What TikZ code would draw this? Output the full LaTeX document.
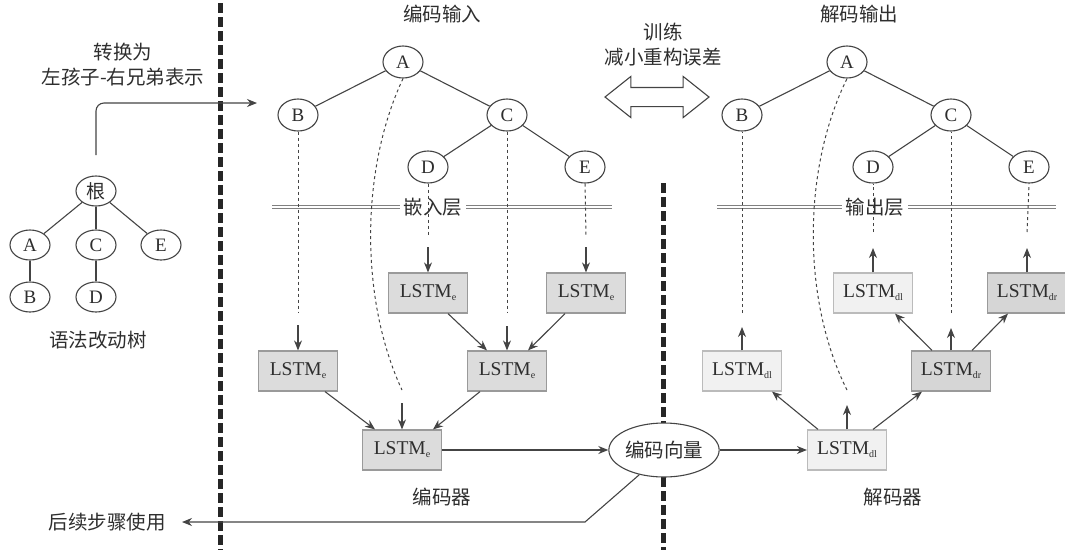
\documentclass[tikz,border=0pt]{standalone}
\usepackage{fontspec}
\setmainfont{Liberation Serif}
\newfontfamily\cjk{Noto Sans CJK SC}
\usetikzlibrary{arrows.meta,shapes.geometric,shapes.arrows,calc}
\definecolor{ink}{HTML}{2E2E2E}
\definecolor{lineg}{HTML}{444444}
\definecolor{boxe}{HTML}{DCDCDC}
\definecolor{boxeb}{HTML}{9A9A9A}
\definecolor{boxl}{HTML}{F1F1F1}
\definecolor{boxlb}{HTML}{BBBBBB}
\definecolor{boxr}{HTML}{D6D6D6}
\newcommand\lstmtxt[1]{LSTM\raisebox{-3pt}{\fontsize{10}{10}\selectfont #1}}
\begin{document}
\begin{tikzpicture}[x=1pt,y=-1pt,
  tn/.style={ellipse,draw=lineg,line width=1.1pt,minimum width=40pt,minimum height=32pt,inner sep=0pt,fill=white,font=\fontsize{19}{19}\selectfont,text=ink},
  tns/.style={tn,minimum height=30pt},
  lbl/.style={font=\cjk\fontsize{19.5}{25}\selectfont,text=ink,align=center},
  boxbase/.style={rectangle,line width=1.2pt,minimum width=79pt,minimum height=40pt,inner sep=0pt,font=\fontsize{19.5}{19.5}\selectfont,text=ink},
  lstme/.style={boxbase,draw=boxeb,fill=boxe},
  lstmdl/.style={boxbase,draw=boxlb,fill=boxl},
  lstmdr/.style={boxbase,draw=boxeb,fill=boxr},
  edge/.style={draw=lineg,line width=1.1pt},
  arr/.style={edge,-{Stealth[length=10pt,width=8pt]}},
  dsh/.style={draw=lineg,line width=1pt,dash pattern=on 3pt off 3pt},
  bigdash/.style={draw=black!85,line width=5pt,dash pattern=on 10pt off 4pt},
  dbl/.style={draw=gray,double=white,double distance=2.5pt,line width=1pt}
]
\useasboundingbox (0,0) rectangle (1065,550);

% thick separators
\coordinate (s1t) at (220,3);
\coordinate (s1b) at (220,550);
\coordinate (s2t) at (663,183);
\coordinate (s2b) at (663,550);
\draw[bigdash] (s1t) -- (s1b);
\draw[bigdash] (s2t) -- (s2b);

% ---------- left tree ----------
\node[tns] (g) at (96,191) {\cjk 根};
\node[tns] (la) at (30,245) {A};
\node[tns] (lc) at (96,245) {C};
\node[tns] (le) at (161,245) {E};
\node[tns] (lb) at (30,297) {B};
\node[tns] (ld) at (96,297) {D};
\draw[edge] (g) -- (la);
\draw[edge] (g) -- (lc);
\draw[edge] (g) -- (le);
\draw[edge] (la) -- (lb);
\draw[edge] (lc) -- (ld);
\node[lbl] (ltname) at (98,340) {语法改动树};
\node[lbl] (conv) at (123,65) {转换为\\左孩子-右兄弟表示};
\coordinate (gs) at (96,155);
\coordinate (gt) at (257,103);
\draw[arr,rounded corners=8pt] (gs) |- (gt);

% ---------- encoder ----------
\node[lbl] (enin) at (442,14) {编码输入};
\draw[dbl] (272,207) -- (612,207);
\node[lbl,fill=white,inner xsep=4pt,inner ysep=1pt] (emb) at (433,207) {嵌入层};

\node[tn] (eA) at (403,62) {A};
\node[tn] (eB) at (298,115) {B};
\node[tn] (eC) at (507,115) {C};
\node[tn] (eD) at (428,167) {D};
\node[tn] (eE) at (585,167) {E};
\draw[edge] (eA) -- (eB);
\draw[edge] (eA) -- (eC);
\draw[edge] (eC) -- (eD);
\draw[edge] (eC) -- (eE);

\node[lstme] (ed) at (428,293) {\lstmtxt{e}};
\node[lstme] (ee) at (586,293) {\lstmtxt{e}};
\node[lstme] (eb) at (298,371) {\lstmtxt{e}};
\node[lstme] (ec) at (507,371) {\lstmtxt{e}};
\node[lstme] (ea) at (402,450) {\lstmtxt{e}};

\coordinate (eBd) at (298,312);
\coordinate (eBa) at (298,325);
\draw[dsh] (eB.south) -- (eBd);
\draw[arr] (eBa) -- (eb.north);
\coordinate (eDd) at (428,235);
\coordinate (eDa) at (428,247);
\draw[dsh] (eD.south) -- (eDd);
\draw[arr] (eDa) -- (ed.north);
\coordinate (eEd) at (586,235);
\coordinate (eEa) at (586,247);
\draw[dsh] (eE.south) -- (eEd);
\draw[arr] (eEa) -- (ee.north);
\coordinate (eCd) at (507,313);
\coordinate (eCa) at (507,326);
\draw[dsh] (eC.south) -- (eCd);
\draw[arr] (eCa) -- (ec.north);
\coordinate (eAd) at (402,390);
\coordinate (eAa) at (402,403);
\draw[dsh] (eA.south) .. controls (360,170) and (360,300) .. (eAd);
\draw[arr] (eAa) -- (ea.north);

\draw[arr] ($(ed.south)+(20,0)$) -- ($(ec.north)+(-20,0)$);
\draw[arr] ($(ee.south)+(-21,0)$) -- ($(ec.north)+(21,0)$);
\draw[arr] ($(eb.south)+(27,0)$) -- ($(ea.north)+(-27,0)$);
\draw[arr] ($(ec.south)+(-27,0)$) -- ($(ea.north)+(31,0)$);

\node[ellipse,draw=lineg,fill=white,line width=1.1pt,minimum width=105pt,minimum height=54pt,inner sep=0pt,lbl] (vec) at (664,450) {编码向量};
\draw[arr] (ea.east) -- (vec.west);
\node[lbl] (encl) at (442,497) {编码器};
\coordinate (bk) at (585,522);
\coordinate (outp) at (182,522);
\draw[arr] (vec.225) -- (bk) -- (outp);
\node[lbl] (outl) at (107,522) {后续步骤使用};

% ---------- training arrow ----------
\node[lbl] (trl) at (663,45) {训练\\减小重构误差};
\node[double arrow,draw=lineg,line width=1.1pt,fill=white,minimum height=104pt,double arrow head extend=11pt,double arrow tip angle=77,inner xsep=0pt,inner ysep=9pt] (train) at (657,97) {};

% ---------- decoder ----------
\node[lbl] (deout) at (859,14) {解码输出};
\draw[dbl] (717,207) -- (1056,207);
\node[lbl,fill=white,inner xsep=4pt,inner ysep=1pt] (outlay) at (875,207) {输出层};

\node[tn] (dA) at (847,62) {A};
\node[tn] (dB) at (742,115) {B};
\node[tn] (dC) at (951,115) {C};
\node[tn] (dD) at (873,167) {D};
\node[tn] (dE) at (1029,167) {E};
\draw[edge] (dA) -- (dB);
\draw[edge] (dA) -- (dC);
\draw[edge] (dC) -- (dD);
\draw[edge] (dC) -- (dE);

\node[lstmdl] (dd) at (873,293) {\lstmtxt{dl}};
\node[lstmdr] (de) at (1027,293) {\lstmtxt{dr}};
\node[lstmdl] (db) at (742,371) {\lstmtxt{dl}};
\node[lstmdr] (dc) at (951,371) {\lstmtxt{dr}};
\node[lstmdl] (da) at (847,450) {\lstmtxt{dl}};

\draw[arr] (vec.east) -- (da.west);
\node[lbl] (decl) at (893,497) {解码器};

\draw[arr] ($(da.north)+(-29,0)$) -- ($(db.south)+(30,0)$);
\draw[arr] ($(da.north)+(26,0)$) -- ($(dc.south)+(-29,0)$);
\coordinate (dAa) at (847,405);
\coordinate (dAd) at (847,390);
\draw[arr] (da.north) -- (dAa);
\draw[dsh] (dAd) .. controls (802,300) and (802,170) .. (dA.south);

\coordinate (dBa) at (742,327);
\coordinate (dBd) at (742,313);
\draw[arr] (db.north) -- (dBa);
\draw[dsh] (dBd) -- (dB.south);

\draw[arr] ($(dc.north)+(-19,0)$) -- ($(dd.south)+(22,0)$);
\draw[arr] ($(dc.north)+(21,0)$) -- ($(de.south)+(-19,0)$);
\coordinate (dCa) at (951,328);
\coordinate (dCd) at (951,313);
\draw[arr] (dc.north) -- (dCa);
\draw[dsh] (dCd) -- (dC.south);

\coordinate (dDa) at (873,248);
\coordinate (dDd) at (873,232);
\draw[arr] (dd.north) -- (dDa);
\draw[dsh] (dDd) -- (dD.south);

\coordinate (dEa) at (1027,248);
\coordinate (dEd) at (1027,232);
\draw[arr] (de.north) -- (dEa);
\draw[dsh] (dEd) -- (dE.south);
\end{tikzpicture}
\end{document}
